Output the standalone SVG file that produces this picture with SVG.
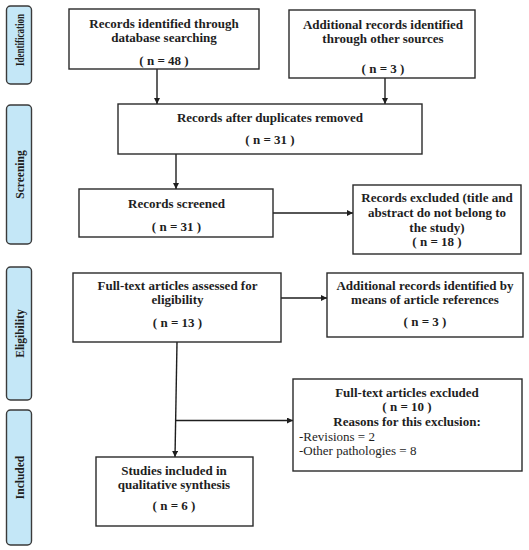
<svg xmlns="http://www.w3.org/2000/svg" width="529" height="550" viewBox="0 0 529 550">
<defs>
<style>
.box{fill:#fff;stroke:#2a2a2a;stroke-width:1.4}
.lab{fill:#c4e7f7;stroke:#3a3a3a;stroke-width:1.4}
.t{font-family:"Liberation Serif","Times New Roman",serif;font-size:13px;font-weight:bold;fill:#1e1e1e;text-anchor:middle}
.r{font-family:"Liberation Serif","Times New Roman",serif;font-size:13px;fill:#1e1e1e}
.s{font-family:"Liberation Serif","Times New Roman",serif;font-size:11.5px;font-weight:bold;fill:#1e1e1e;text-anchor:middle}
.c{fill:none;stroke:#1e1e1e;stroke-width:1.4}
</style>
<marker id="ah" viewBox="0 0 10 10" refX="10" refY="5" markerWidth="6" markerHeight="6" markerUnits="userSpaceOnUse" orient="auto">
<path d="M0,0 L10,5 L0,10 z" fill="#1e1e1e"/>
</marker>
</defs>

<g id="stage-identification">
<rect class="lab" x="6.5" y="6" width="25" height="78" rx="4"/>
<text class="s" transform="translate(23.5,40) rotate(-90)" textLength="52" lengthAdjust="spacingAndGlyphs">Identification</text>
</g>
<g id="stage-screening">
<rect class="lab" x="6.5" y="105" width="25" height="139" rx="4"/>
<text class="s" transform="translate(23.5,174.5) rotate(-90)">Screening</text>
</g>
<g id="stage-eligibility">
<rect class="lab" x="6.5" y="267" width="25" height="133" rx="4"/>
<text class="s" transform="translate(23.5,333.5) rotate(-90)">Eligibility</text>
</g>
<g id="stage-included">
<rect class="lab" x="6.5" y="410" width="25" height="135" rx="4"/>
<text class="s" transform="translate(23.5,477.5) rotate(-90)">Included</text>
</g>

<g id="connectors">
<line class="c" x1="157" y1="69" x2="157" y2="104" marker-end="url(#ah)"/>
<line class="c" x1="385" y1="78" x2="385" y2="104" marker-end="url(#ah)"/>
<line class="c" x1="176" y1="154" x2="176" y2="189" marker-end="url(#ah)"/>
<line class="c" x1="273" y1="213" x2="353" y2="213" marker-end="url(#ah)"/>
<line class="c" x1="281" y1="298" x2="327" y2="298" marker-end="url(#ah)"/>
<line class="c" x1="177" y1="342" x2="175" y2="457" marker-end="url(#ah)"/>
<line class="c" x1="176" y1="420.5" x2="293" y2="420.5" marker-end="url(#ah)"/>
</g>

<g id="n1">
<rect class="box" x="69" y="9" width="190" height="60"/>
<text class="t" x="164" y="28">Records identified through</text>
<text class="t" x="164" y="42">database searching</text>
<text class="t" x="164" y="65">( n = 48 )</text>
</g>
<g id="n2">
<rect class="box" x="289" y="10" width="186" height="68"/>
<text class="t" x="383" y="29">Additional records identified</text>
<text class="t" x="383" y="43">through other sources</text>
<text class="t" x="383" y="73">( n = 3 )</text>
</g>
<g id="n3">
<rect class="box" x="118" y="104" width="304" height="50"/>
<text class="t" x="270" y="122">Records after duplicates removed</text>
<text class="t" x="270" y="144">( n = 31 )</text>
</g>
<g id="n4">
<rect class="box" x="79" y="189" width="194" height="48"/>
<text class="t" x="176.5" y="208">Records screened</text>
<text class="t" x="176.5" y="231">( n = 31 )</text>
</g>
<g id="n5">
<rect class="box" x="353" y="185" width="168" height="69"/>
<text class="t" x="437" y="202">Records excluded (title and</text>
<text class="t" x="437" y="217">abstract do not belong to</text>
<text class="t" x="437" y="232">the study)</text>
<text class="t" x="437" y="246">( n = 18 )</text>
</g>
<g id="n6">
<rect class="box" x="73" y="273" width="208" height="69"/>
<text class="t" x="177.5" y="290">Full-text articles assessed for</text>
<text class="t" x="177.5" y="304">eligibility</text>
<text class="t" x="177.5" y="327">( n = 13 )</text>
</g>
<g id="n7">
<rect class="box" x="327" y="273" width="196" height="64"/>
<text class="t" x="425" y="290">Additional records identified by</text>
<text class="t" x="425" y="304">means of article references</text>
<text class="t" x="425" y="326">( n = 3 )</text>
</g>
<g id="n8">
<rect class="box" x="293" y="379" width="229" height="92"/>
<text class="t" x="407" y="397">Full-text articles excluded</text>
<text class="t" x="407" y="411">( n = 10 )</text>
<text class="t" x="407" y="426">Reasons for this exclusion:</text>
<text class="r" x="299" y="441">-Revisions = 2</text>
<text class="r" x="299" y="455">-Other pathologies = 8</text>
</g>
<g id="n9">
<rect class="box" x="96" y="457" width="157" height="69"/>
<text class="t" x="174" y="475">Studies included in</text>
<text class="t" x="174" y="489">qualitative synthesis</text>
<text class="t" x="174" y="510">( n = 6 )</text>
</g>
</svg>
